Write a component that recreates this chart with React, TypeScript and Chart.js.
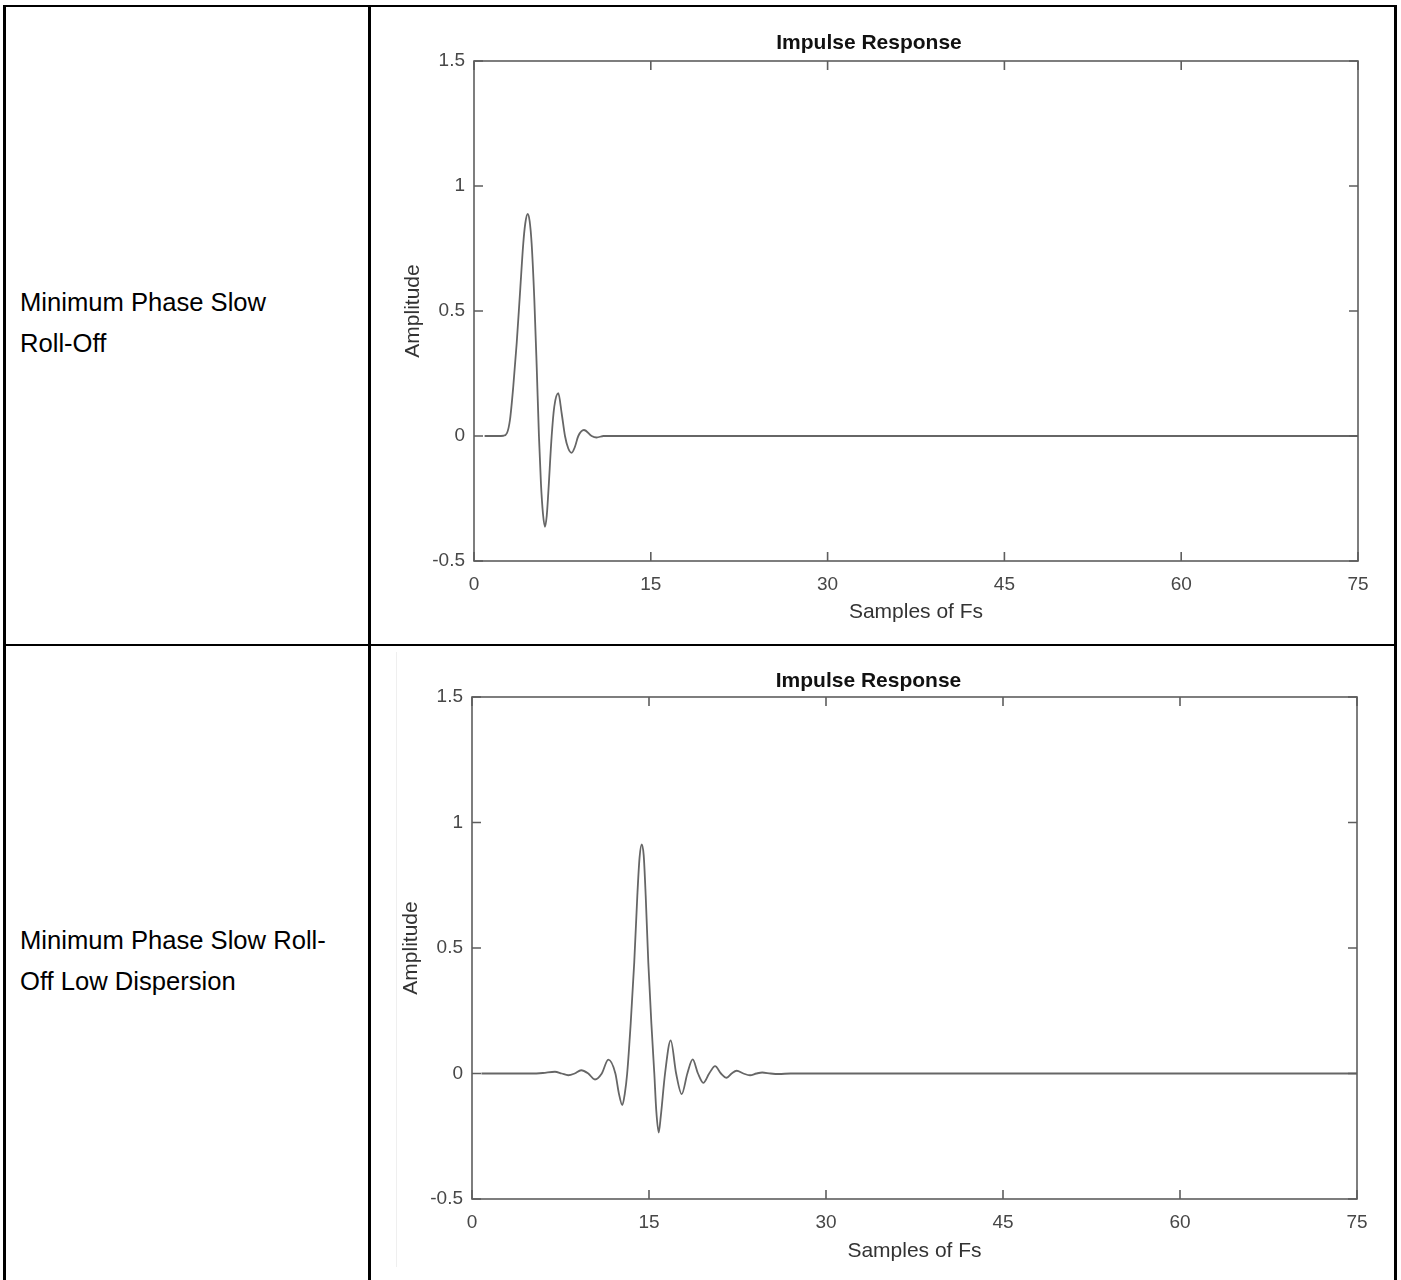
import React, { useEffect, useRef } from "react";
import { Chart, registerables } from "chart.js";

Chart.register(...registerables);

// ---------- data ----------
const xTicks = [0, 15, 30, 45, 60, 75];
const yTicks = [-0.5, 0, 0.5, 1, 1.5];
const chartTitle = "Impulse Response";
const xAxisTitle = "Samples of Fs";
const yAxisTitle = "Amplitude";
const rowLabels1 = ["Minimum Phase Slow", "Roll-Off"];
const rowLabels2 = ["Minimum Phase Slow Roll-", "Off Low Dispersion"];

// Minimum Phase Slow Roll-Off
const slowX = [
  0.9, 2.0, 2.5, 2.8, 3.05, 3.33, 3.62, 3.9, 4.18, 4.35, 4.55, 4.72, 4.89, 5.12,
  5.32, 5.51, 5.68, 5.85, 6.02, 6.17, 6.3, 6.59, 6.81, 7.15, 7.44, 7.72, 8.0,
  8.28, 8.55, 8.85, 9.33, 9.98, 10.4, 11.0, 75,
];
const slowY = [
  0, 0, 0.001, 0.012, 0.064, 0.197, 0.37, 0.57, 0.77, 0.85, 0.888, 0.86, 0.77,
  0.544, 0.277, 0, -0.19, -0.31, -0.363, -0.32, -0.23, 0, 0.117, 0.171, 0.09, 0,
  -0.05, -0.067, -0.045, 0, 0.024, 0, -0.006, 0, 0,
];

// Minimum Phase Slow Roll-Off Low Dispersion
const lowDispX = [
  0.8, 5.0, 6.0, 7.03, 7.6, 8.16, 8.7, 9.25, 9.85, 10.42, 11.0, 11.55, 12.15,
  12.45, 12.74, 12.95, 13.15, 13.45, 13.75, 14.01, 14.2, 14.38, 14.55, 14.72,
  14.94, 15.2, 15.45, 15.62, 15.82, 16.0, 16.36, 16.84, 17.3, 17.77, 18.25,
  18.7, 19.15, 19.6, 20.1, 20.6, 21.1, 21.58, 22.0, 22.43, 23.0, 23.56, 24.1,
  24.6, 25.3, 26.0, 27.0, 75,
];
const lowDispY = [
  0, 0, 0.002, 0.007, 0, -0.007, 0, 0.013, 0, -0.024, 0, 0.055, 0, -0.08,
  -0.126, -0.08, 0, 0.2, 0.443, 0.708, 0.86, 0.913, 0.87, 0.708, 0.443, 0.2, 0,
  -0.15, -0.235, -0.17, 0, 0.132, 0, -0.082, 0, 0.056, 0, -0.037, 0, 0.029, 0,
  -0.017, 0, 0.011, 0, -0.007, 0, 0.004, 0, -0.002, 0, 0,
];

// ---------- styles ----------
const FONT = "'Liberation Sans', Arial, Helvetica, sans-serif";
const AXIS_COLOR = "#5e5e5e";
const TICK_TEXT = "#474747";
const LINE_COLOR = "#666666";

const frameTicks = {
  id: "frameTicks",
  afterDraw(chart: any) {
    const { ctx, chartArea: a, scales } = chart;
    const sx = scales.x;
    const sy = scales.y;
    const len = 9;
    ctx.save();
    ctx.strokeStyle = AXIS_COLOR;
    ctx.lineWidth = 1.6;
    ctx.strokeRect(a.left, a.top, a.right - a.left, a.bottom - a.top);
    ctx.beginPath();
    xTicks.forEach((v) => {
      const px = sx.getPixelForValue(v);
      ctx.moveTo(px, a.bottom);
      ctx.lineTo(px, a.bottom - len);
      ctx.moveTo(px, a.top);
      ctx.lineTo(px, a.top + len);
    });
    yTicks.forEach((v) => {
      const py = sy.getPixelForValue(v);
      ctx.moveTo(a.left, py);
      ctx.lineTo(a.left + len, py);
      ctx.moveTo(a.right, py);
      ctx.lineTo(a.right - len, py);
    });
    ctx.stroke();
    ctx.restore();
  },
};

type Geo = {
  left: number;
  top: number;
  width: number;
  height: number;
  axisW: number;
  axisH: number;
  padRight: number;
  titlePadTop: number;
  titlePadBottom: number;
  xTitlePadBottom: number;
  yTitlePadTop: number;
};

function ImpulseChart({ xs, ys, geo }: { xs: number[]; ys: number[]; geo: Geo }) {
  const ref = useRef<HTMLCanvasElement | null>(null);
  useEffect(() => {
    if (!ref.current) return;
    const points = xs.map((x, i) => ({ x, y: ys[i] }));
    const chart = new Chart(ref.current, {
      type: "scatter",
      data: {
        datasets: [
          {
            data: points,
            showLine: true,
            borderColor: LINE_COLOR,
            borderWidth: 1.8,
            pointRadius: 0,
            cubicInterpolationMode: "monotone",
            fill: false,
          } as any,
        ],
      },
      options: {
        animation: false,
        responsive: false,
        devicePixelRatio: 1,
        layout: { padding: { left: 0, right: geo.padRight, top: 0, bottom: 0 } },
        plugins: {
          legend: { display: false },
          tooltip: { enabled: false },
          title: {
            display: true,
            text: chartTitle,
            color: "#111111",
            font: { family: FONT, size: 21, weight: "bold", lineHeight: 1.2 },
            padding: { top: geo.titlePadTop, bottom: geo.titlePadBottom },
          },
        },
        scales: {
          x: {
            type: "linear",
            min: 0,
            max: 75,
            afterBuildTicks: (s: any) => {
              s.ticks = xTicks.map((v) => ({ value: v }));
            },
            afterFit: (s: any) => {
              s.height = geo.axisH;
            },
            grid: { display: false, drawTicks: false },
            border: { display: false },
            ticks: {
              color: TICK_TEXT,
              font: { family: FONT, size: 19 },
              padding: 12,
              maxRotation: 0,
              callback: (v: any) => String(v),
            },
            title: {
              display: true,
              text: xAxisTitle,
              color: "#333333",
              font: { family: FONT, size: 21, lineHeight: 1.2 },
              padding: { top: 0, bottom: geo.xTitlePadBottom },
            },
          },
          y: {
            type: "linear",
            min: -0.5,
            max: 1.5,
            afterBuildTicks: (s: any) => {
              s.ticks = yTicks.map((v) => ({ value: v }));
            },
            afterFit: (s: any) => {
              s.width = geo.axisW;
            },
            grid: { display: false, drawTicks: false },
            border: { display: false },
            ticks: {
              color: TICK_TEXT,
              font: { family: FONT, size: 19 },
              padding: 9,
              callback: (v: any) => String(v),
            },
            title: {
              display: true,
              text: yAxisTitle,
              color: "#333333",
              font: { family: FONT, size: 21, lineHeight: 1.2 },
              padding: { top: geo.yTitlePadTop, bottom: 0 },
            },
          },
        },
      } as any,
      plugins: [frameTicks],
    });
    return () => chart.destroy();
  }, [xs, ys, geo]);
  return (
    <canvas
      ref={ref}
      width={geo.width}
      height={geo.height}
      style={{
        position: "absolute",
        left: geo.left,
        top: geo.top,
        width: geo.width,
        height: geo.height,
      }}
    />
  );
}

const geo1: Geo = {
  left: 380,
  top: 10,
  width: 1010,
  height: 630,
  axisW: 94,
  axisH: 79,
  padRight: 32,
  titlePadTop: 20.4,
  titlePadBottom: 5.4,
  xTitlePadBottom: 15.4,
  yTitlePadTop: 20.4,
};

const geo2: Geo = {
  left: 380,
  top: 650,
  width: 1010,
  height: 630,
  axisW: 92,
  axisH: 81,
  padRight: 33,
  titlePadTop: 18.4,
  titlePadBottom: 3.4,
  xTitlePadBottom: 16.4,
  yTitlePadTop: 18.4,
};

const black = "#000000";

function Line({ l, t, w, h, c = black }: { l: number; t: number; w: number; h: number; c?: string }) {
  return <div style={{ position: "absolute", left: l, top: t, width: w, height: h, background: c }} />;
}

function CellText({ lines, top }: { lines: string[]; top: number }) {
  return (
    <div
      style={{
        position: "absolute",
        left: 20,
        top,
        fontFamily: FONT,
        fontSize: 25.6,
        lineHeight: "41px",
        color: "#000",
        whiteSpace: "nowrap",
      }}
    >
      {lines.map((s, i) => (
        <div key={i}>{s}</div>
      ))}
    </div>
  );
}

export default function App() {
  return (
    <div
      style={{
        position: "absolute",
        left: 0,
        top: 0,
        width: 1401,
        height: 1280,
        background: "#ffffff",
        overflow: "hidden",
      }}
    >
      <Line l={396} t={652} w={1} h={615} c="#efefef" />
      <ImpulseChart xs={slowX} ys={slowY} geo={geo1} />
      <ImpulseChart xs={lowDispX} ys={lowDispY} geo={geo2} />
      <CellText lines={rowLabels1} top={281.5} />
      <CellText lines={rowLabels2} top={919.5} />
      {/* table borders */}
      <Line l={3} t={5} w={1394} h={2} />
      <Line l={3} t={5} w={3} h={1275} />
      <Line l={1394} t={5} w={3} h={1275} />
      <Line l={368} t={5} w={3} h={1275} />
      <Line l={3} t={644} w={1394} h={2} />
    </div>
  );
}
